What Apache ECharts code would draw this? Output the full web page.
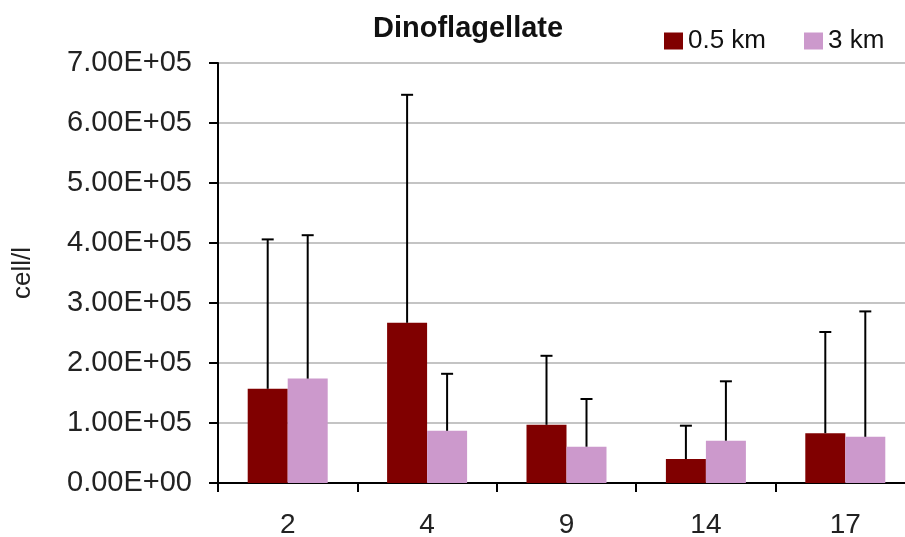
<!DOCTYPE html>
<html>
<head>
<meta charset="utf-8">
<script src="https://cdn.jsdelivr.net/npm/echarts@6/dist/echarts.min.js"></script>
<style>
  html, body { margin: 0; padding: 0; background: #fff; }
  #chart { width: 905px; height: 537px; }
</style>
</head>
<body>
<div id="chart"></div>
<script>
// Sampling days and dinoflagellate abundance (cell/l) at two distances
const categories = ['2', '4', '9', '14', '17'];
const seriesNames = ['0.5 km', '3 km'];
const near = [157000, 267000, 97000, 40000, 83000];      // 0.5 km means
const far = [174000, 87000, 60500, 70500, 77000];        // 3 km means
const nearErr = [249000, 380000, 115000, 55500, 168700]; // 0.5 km upper error
const farErr = [239000, 95000, 79500, 99000, 209000];    // 3 km upper error
const yTicks = [0, 100000, 200000, 300000, 400000, 500000, 600000, 700000];

const FONT = '"Liberation Sans", Arial, sans-serif';
const BAR_W = 40;
const colors = ['#800000', '#CC99CC'];

function sci(v) {
  if (v === 0) return '0.00E+00';
  const e = Math.floor(Math.log10(Math.abs(v)));
  const m = v / Math.pow(10, e);
  const es = (e < 0 ? '-' : '+') + String(Math.abs(e)).padStart(2, '0');
  return m.toFixed(2) + 'E' + es;
}

function errorSeries(values, errs, offset) {
  return {
    type: 'custom',
    z: 5,
    silent: true,
    data: values.map((v, i) => [i, v, errs[i]]),
    encode: { x: 0, y: 1 },
    renderItem: function (params, api) {
      const i = api.value(0), v = api.value(1), e = api.value(2);
      const p0 = api.coord([i, v]);
      const p1 = api.coord([i, v + e]);
      const x = p0[0] + offset;
      const style = { stroke: '#000', lineWidth: 2 };
      return {
        type: 'group',
        children: [
          { type: 'line', shape: { x1: x, y1: p0[1], x2: x, y2: p1[1] }, style: style },
          { type: 'line', shape: { x1: x - 6, y1: p1[1], x2: x + 6, y2: p1[1] }, style: style }
        ]
      };
    }
  };
}

const chart = echarts.init(document.getElementById('chart'), null, { renderer: 'canvas' });
chart.setOption({
  animation: false,
  backgroundColor: '#fff',
  title: {
    text: 'Dinoflagellate',
    left: 373,
    top: 14,
    padding: 0,
    textStyle: { fontFamily: FONT, fontSize: 29, fontWeight: 'bold', color: '#111' }
  },
  legend: {
    data: seriesNames,
    left: 664,
    top: 28,
    padding: 0,
    itemWidth: 19,
    itemHeight: 17,
    itemGap: 38,
    icon: 'rect',
    textStyle: { fontFamily: FONT, fontSize: 26, color: '#111' }
  },
  grid: {
    left: 218,
    width: 697,
    top: 63,
    height: 420,
    show: true,
    borderColor: '#222',
    borderWidth: 2,
    containLabel: false,
    outerBoundsMode: 'none'
  },
  xAxis: {
    type: 'category',
    data: categories,
    axisLine: { lineStyle: { color: '#000', width: 2 } },
    axisTick: { show: true, length: 9, lineStyle: { color: '#000', width: 2 } },
    axisLabel: { fontFamily: FONT, fontSize: 28, color: '#222', margin: 28 },
    splitLine: { show: false }
  },
  yAxis: {
    type: 'value',
    min: yTicks[0],
    max: yTicks[yTicks.length - 1],
    interval: yTicks[1] - yTicks[0],
    name: 'cell/l',
    nameLocation: 'middle',
    nameGap: 182,
    nameTextStyle: { fontFamily: FONT, fontSize: 26, color: '#222' },
    axisLine: { show: true, lineStyle: { color: '#000', width: 2 } },
    axisTick: { show: true, length: 9, lineStyle: { color: '#000', width: 2 } },
    axisLabel: { fontFamily: FONT, fontSize: 29, color: '#222', margin: 26, formatter: sci },
    splitLine: { show: true, lineStyle: { color: '#c4c4c4', width: 2 } }
  },
  series: [
    { name: seriesNames[0], type: 'bar', data: near, barWidth: BAR_W, barGap: '0%', itemStyle: { color: colors[0] } },
    { name: seriesNames[1], type: 'bar', data: far, barWidth: BAR_W, barGap: '0%', itemStyle: { color: colors[1] } },
    errorSeries(near, nearErr, -BAR_W / 2),
    errorSeries(far, farErr, BAR_W / 2)
  ]
});
</script>
</body>
</html>
